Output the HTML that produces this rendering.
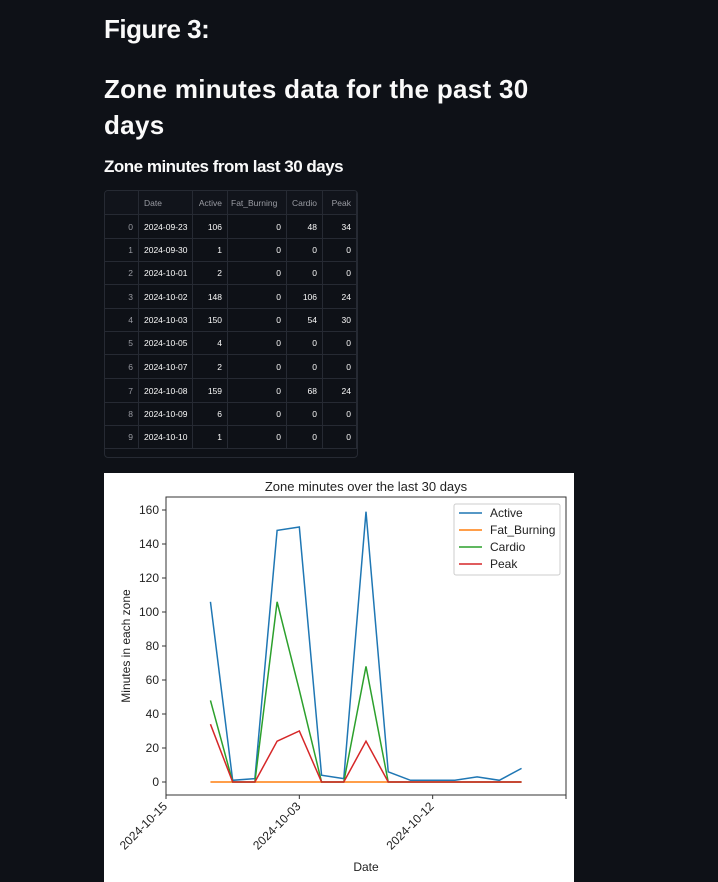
<!DOCTYPE html>
<html><head><meta charset="utf-8"><style>
body{margin:0;width:718px;height:882px;background:#0e1117;overflow:hidden;font-family:"Liberation Sans",sans-serif;color:#fafafa;position:relative}
h1,h2,h3{margin:0;position:absolute;left:104px;font-weight:bold;letter-spacing:-0.5px}
.tbl{position:absolute;left:104px;top:190px;width:252px;height:266px;border:1px solid #262a33;border-radius:4px;overflow:hidden;font-size:8.5px}
.row{position:absolute;left:0;width:252px;border-bottom:1px solid #262a33}
.c{position:absolute;top:0;height:100%;display:flex;align-items:center;border-right:1px solid #262a33;box-sizing:border-box;padding:0 5px;white-space:nowrap}
</style></head><body>
<h1 style="top:14px;font-size:26px">Figure 3:</h1>
<h2 style="top:71px;font-size:26px;line-height:36px;width:445px;letter-spacing:0.3px">Zone minutes data for the past 30 days</h2>
<h3 style="top:157px;font-size:17px">Zone minutes from last 30 days</h3>
<div class="tbl" id="tbl"></div>
<svg id="chart" style="position:absolute;left:104px;top:473px" width="470" height="409"></svg>
<script>
const idx=[0,1,2,3,4,5,6,7,8,9];
const dates=["2024-09-23","2024-09-30","2024-10-01","2024-10-02","2024-10-03","2024-10-05","2024-10-07","2024-10-08","2024-10-09","2024-10-10"];
const active=[106,1,2,148,150,4,2,159,6,1,1,1,3,1,8];
const fatBurning=[0,0,0,0,0,0,0,0,0,0,0,0,0,0,0];
const cardio=[48,0,0,106,54,0,0,68,0,0,0,0,0,0,0];
const peak=[34,0,0,24,30,0,0,24,0,0,0,0,0,0,0];
const yTicks=[0,20,40,60,80,100,120,140,160];
const xTickPos=[-2,4,10,16];
const xTickLabels=["2024-10-15","2024-10-03","2024-10-12",""];
const cols=[["",0,34],["Date",34,88],["Active",88,123],["Fat_Burning",123,182],["Cardio",182,218],["Peak",218,252]];
const tb=document.getElementById('tbl');
const rowY=[0,24,48,71,94,118,141,164,188,212,235,258];
for(let r=0;r<11;r++){
 const d=document.createElement('div');d.className='row';
 
 
 d.style.top=rowY[r]+'px';d.style.height=(rowY[r+1]-rowY[r]-1)+'px';
 if(r==0)d.style.background='#11141b';
 const vals=r==0?cols.map(c=>c[0]):[idx[r-1],dates[r-1],active[r-1],fatBurning[r-1],cardio[r-1],peak[r-1]];
 cols.forEach((c,i)=>{const s=document.createElement('div');s.className='c';
  s.style.left=c[1]+'px';s.style.width=(c[2]-c[1])+'px';
  s.style.justifyContent=(i==1)?'flex-start':'flex-end';
  if(r==0&&i==3)s.style.justifyContent='flex-start';
  s.style.padding=(i==3&&r==0)?'0 3px':'0 5px';
  s.style.color=(r==0||i==0)?'#9a9ca3':'#fafafa';
  s.textContent=vals[i];d.appendChild(s);});
 tb.appendChild(d);
}
const ns='http://www.w3.org/2000/svg',svg=document.getElementById('chart');
function el(t,a,txt){const e=document.createElementNS(ns,t);for(const k in a)e.setAttribute(k,a[k]);if(txt!==undefined)e.textContent=txt;svg.appendChild(e);return e;}
const L=62,R=462,T=24,B=322;
const x=i=>L+(i+2)/18*(R-L);
const y=v=>309-v*1.7;
el('rect',{x:0,y:0,width:470,height:409,fill:'#fff'});
el('text',{x:262,y:18,'text-anchor':'middle','font-size':13,fill:'#222'},'Zone minutes over the last 30 days');
yTicks.forEach(v=>{const t=el('line',{x1:L-4,x2:L,y1:y(v),y2:y(v),stroke:'#333'});
 el('text',{x:L-7,y:y(v)+4,'text-anchor':'end','font-size':12,fill:'#222'},v);});
xTickPos.forEach((p,i)=>{el('line',{x1:x(p),x2:x(p),y1:B,y2:B+4,stroke:'#333'});
 el('text',{x:x(p)+2,y:B+12,'text-anchor':'end','font-size':12,fill:'#222',transform:`rotate(-45 ${x(p)+2} ${B+12})`},xTickLabels[i]);});
const series=[[active,'#1f77b4','Active'],[fatBurning,'#ff7f0e','Fat_Burning'],[cardio,'#2ca02c','Cardio'],[peak,'#d62728','Peak']];
series.forEach(s=>{const p=el('polyline',{points:s[0].map((v,i)=>x(i)+','+y(v)).join(' '),fill:'none',stroke:s[1],'stroke-width':1.5});
 });
el('rect',{x:L,y:T,width:R-L,height:B-T,fill:'none',stroke:'#333','stroke-width':1});
const lg=el('rect',{x:350,y:31,width:106,height:71,fill:'#fff',stroke:'#ccc',rx:2});

series.forEach((s,i)=>{el('line',{x1:355,x2:378,y1:40+i*17,y2:40+i*17,stroke:s[1],'stroke-width':1.5});
 const t=el('text',{x:386,y:44+i*17,'font-size':12,fill:'#222'},s[2]);});
el('text',{x:262,y:398,'text-anchor':'middle','font-size':12,fill:'#222'},'Date');
el('text',{x:26,y:173,'text-anchor':'middle','font-size':12,fill:'#222',transform:'rotate(-90 26 173)'},'Minutes in each zone');
</script>
</body></html>
